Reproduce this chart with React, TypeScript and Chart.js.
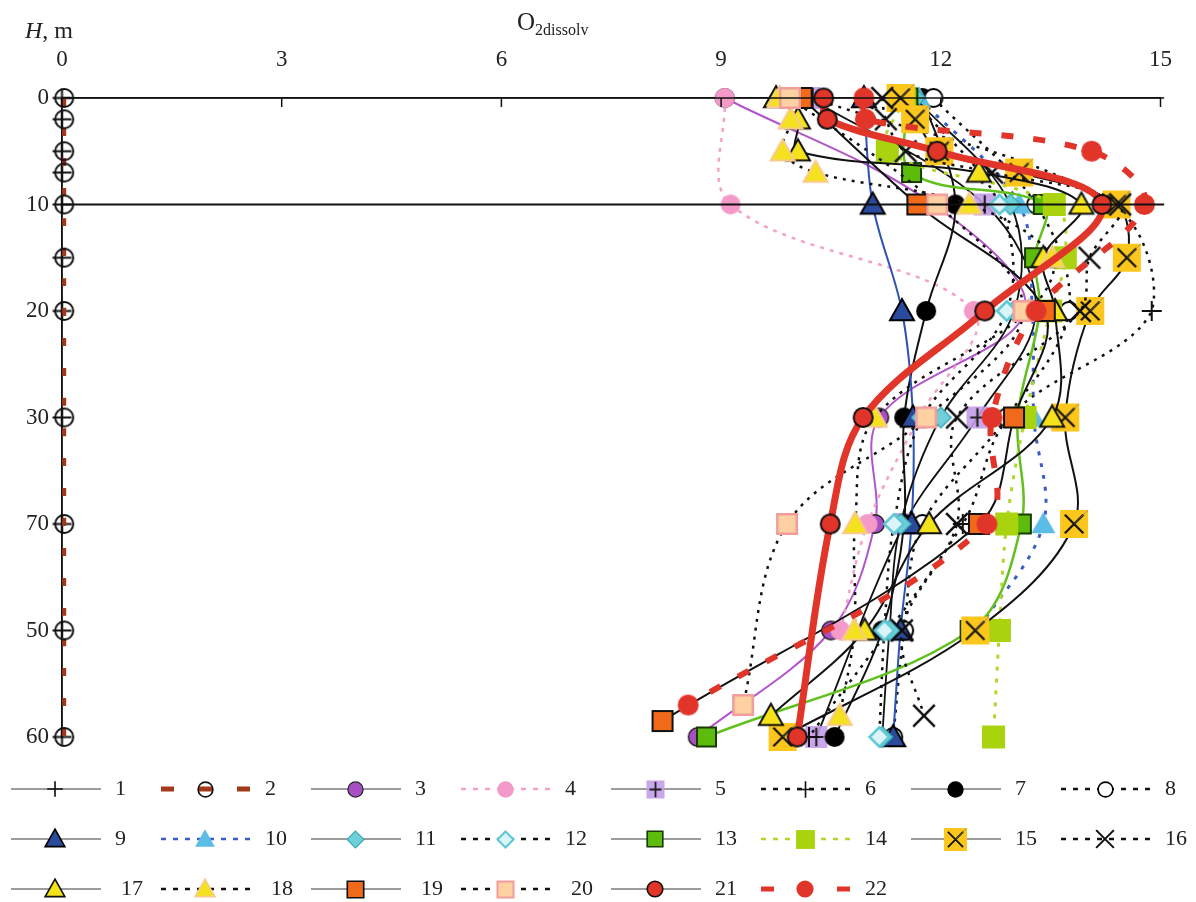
import React, { useEffect, useRef } from "react";
import { Chart, registerables } from "chart.js";

Chart.register(...registerables);

const FONT = '"Liberation Serif", "Times New Roman", serif';

// ---- axis ticks ----
const xTickValues = [0, 3, 6, 9, 12, 15];
const depthTickValues = [0, 10, 20, 30, 40, 50, 60];
const depthTickLabels = ["0", "10", "20", "30", "70", "50", "60"];

// ---- reference horizontal lines ----
const refLineDepths = [0, 10];
const refLineX = [0, 15.05];

// ---- legend labels ----
const legendLabels = [
  "1", "2", "3", "4", "5", "6", "7", "8",
  "9", "10", "11", "12", "13", "14", "15", "16",
  "17", "18", "19", "20", "21", "22",
];

// ---- series (depth H, m / dissolved O2) ----
const s1Depth = [0, 2, 5, 7, 10, 15, 20, 30, 40, 50, 60];
const s1O2 = [0, 0, 0, 0, 0, 0, 0, 0, 0, 0, 0];
const s2Depth = [0, 2, 5, 7, 10, 15, 20, 30, 40, 50, 60];
const s2O2 = [0.03, 0.03, 0.03, 0.03, 0.03, 0.03, 0.03, 0.03, 0.03, 0.03, 0.03];
const s3Depth = [0, 10, 20, 30, 40, 50, 60];
const s3O2 = [9.05, 11.9, 13.15, 11.16, 11.1, 10.5, 8.68];
const s4Depth = [0, 10, 20, 30, 40, 50];
const s4O2 = [9.05, 9.13, 12.45, 11.7, 11.0, 10.63];
const s5Depth = [0, 10, 20, 30, 40, 60];
const s5O2 = [10.2, 12.6, 13.3, 12.5, 11.5, 10.3];
const s6Depth = [0, 10, 20, 30, 40, 60];
const s6O2 = [10.25, 14.35, 14.88, 12.93, 12.3, 10.2];
const s7Depth = [0, 10, 20, 30, 40, 50, 60];
const s7O2 = [11.75, 12.2, 11.8, 11.5, 11.5, 11.2, 10.55];
const s8Depth = [0, 10, 20, 30, 40, 50, 60];
const s8O2 = [11.9, 13.3, 13.75, 12.9, 11.75, 11.5, 11.35];
const s9Depth = [0, 10, 20, 30, 40, 50, 60];
const s9O2 = [10.95, 11.07, 11.47, 11.62, 11.6, 11.45, 11.35];
const s10Depth = [0, 10, 20, 30, 40, 50];
const s10O2 = [11.7, 13.07, 13.25, 13.27, 13.4, 12.5];
const s11Depth = [0, 10, 20, 30, 40, 50, 60];
const s11O2 = [11.65, 12.95, 13.0, 12.0, 11.45, 11.3, 11.2];
const s12Depth = [0, 10, 20, 30, 40, 50, 60];
const s12O2 = [11.6, 12.8, 12.9, 11.75, 11.36, 11.23, 11.16];
const s13Depth = [0, 7, 10, 15, 20, 30, 40, 50, 60];
const s13O2 = [11.55, 11.6, 13.4, 13.28, 13.35, 13.05, 13.1, 12.4, 8.8];
const s14Depth = [0, 5, 10, 15, 20, 30, 40, 50, 60];
const s14O2 = [11.5, 11.27, 13.55, 13.7, 13.5, 13.15, 12.9, 12.8, 12.72];
const s15Depth = [0, 2, 5, 7, 10, 15, 20, 30, 40, 50, 60];
const s15O2 = [11.45, 11.65, 11.98, 13.07, 14.4, 14.54, 14.04, 13.7, 13.82, 12.47, 9.84];
const s16Depth = [0, 2, 5, 7, 10, 15, 20, 30, 40, 50, 58];
const s16O2 = [11.2, 11.25, 11.52, 12.7, 14.45, 14.03, 13.9, 12.22, 12.22, 11.47, 11.77];
const s17Depth = [0, 2, 5, 7, 10, 15, 20, 30, 40, 50, 58];
const s17O2 = [9.75, 10.05, 10.05, 12.52, 13.92, 13.4, 13.56, 13.52, 11.84, 10.96, 9.68];
const s18Depth = [0, 2, 5, 7, 10, 15, 20, 30, 40, 50, 58];
const s18O2 = [9.8, 9.95, 9.84, 10.29, 12.39, 13.52, 13.2, 11.1, 10.83, 10.82, 10.62];
const s19Depth = [0, 10, 20, 30, 40, 58.5];
const s19O2 = [10.1, 11.68, 13.42, 13.0, 12.52, 8.2];
const s20Depth = [0, 10, 20, 30, 40, 57];
const s20O2 = [9.94, 11.95, 13.13, 11.8, 9.9, 9.3];
const s21Depth = [0, 2, 5, 10, 20, 30, 40, 60];
const s21O2 = [10.4, 10.45, 11.95, 14.2, 12.6, 10.94, 10.49, 10.04];
const s22Depth = [0, 2, 5, 10, 20, 30, 40, 57];
const s22O2 = [10.95, 10.97, 14.06, 14.78, 13.3, 12.7, 12.63, 8.55];

const seriesDepths = [
  s1Depth, s2Depth, s3Depth, s4Depth, s5Depth, s6Depth, s7Depth, s8Depth,
  s9Depth, s10Depth, s11Depth, s12Depth, s13Depth, s14Depth, s15Depth, s16Depth,
  s17Depth, s18Depth, s19Depth, s20Depth, s21Depth, s22Depth,
];
const seriesO2 = [
  s1O2, s2O2, s3O2, s4O2, s5O2, s6O2, s7O2, s8O2,
  s9O2, s10O2, s11O2, s12O2, s13O2, s14O2, s15O2, s16O2,
  s17O2, s18O2, s19O2, s20O2, s21O2, s22O2,
];

// ---- styles ----
type LineStyle = { color: string; width: number; dash: number[] };
const lineStyles: LineStyle[] = [
  { color: "#111", width: 1.5, dash: [] },
  { color: "#a3391b", width: 4, dash: [8, 22] },
  { color: "#b155c9", width: 2, dash: [] },
  { color: "#f4a0cb", width: 2.5, dash: [4, 6] },
  { color: "#111", width: 1.8, dash: [] },
  { color: "#111", width: 2.5, dash: [3, 6] },
  { color: "#111", width: 2, dash: [] },
  { color: "#111", width: 2.5, dash: [3, 6] },
  { color: "#2d52b4", width: 2, dash: [] },
  { color: "#3b5cc6", width: 3, dash: [4, 8] },
  { color: "#111", width: 1.8, dash: [] },
  { color: "#111", width: 2.5, dash: [3, 6] },
  { color: "#62c01c", width: 2.5, dash: [] },
  { color: "#b2d62a", width: 3, dash: [4, 8] },
  { color: "#111", width: 2, dash: [] },
  { color: "#111", width: 2.5, dash: [3, 6] },
  { color: "#111", width: 2, dash: [] },
  { color: "#111", width: 2.5, dash: [3, 6] },
  { color: "#111", width: 2, dash: [] },
  { color: "#111", width: 2.5, dash: [3, 6] },
  { color: "#e2352a", width: 7, dash: [] },
  { color: "#e2352a", width: 6, dash: [12, 20] },
];

const GRAY = "#9c9c9c";
const legendLineStyles: LineStyle[] = [
  { color: GRAY, width: 2, dash: [] },
  { color: "#a3391b", width: 5, dash: [13, 25] },
  { color: GRAY, width: 2, dash: [] },
  { color: "#f4a0cb", width: 2.5, dash: [5, 7] },
  { color: GRAY, width: 2, dash: [] },
  { color: "#111", width: 2.5, dash: [5, 7] },
  { color: GRAY, width: 2, dash: [] },
  { color: "#111", width: 2.5, dash: [5, 7] },
  { color: GRAY, width: 2, dash: [] },
  { color: "#3b5cc6", width: 2.5, dash: [5, 7] },
  { color: GRAY, width: 2, dash: [] },
  { color: "#111", width: 2.5, dash: [5, 7] },
  { color: GRAY, width: 2, dash: [] },
  { color: "#b2d62a", width: 2.5, dash: [5, 7] },
  { color: GRAY, width: 2, dash: [] },
  { color: "#111", width: 2.5, dash: [5, 7] },
  { color: GRAY, width: 2, dash: [] },
  { color: "#111", width: 2.5, dash: [5, 7] },
  { color: GRAY, width: 2, dash: [] },
  { color: "#111", width: 2.5, dash: [5, 7] },
  { color: GRAY, width: 2, dash: [] },
  { color: "#e2352a", width: 5, dash: [13, 25] },
];

type MarkerSpec = {
  shape: "plus" | "circle" | "square" | "triangle" | "diamond" | "x";
  size: number;
  fill?: string;
  stroke?: string;
  lw?: number;
  inner?: "plus" | "x";
  innerColor?: string;
};
const markerSpecs: MarkerSpec[] = [
  { shape: "plus", size: 19, stroke: "#111", lw: 2 },
  { shape: "circle", size: 20, stroke: "#111", lw: 2 },
  { shape: "circle", size: 20, fill: "#a84fc4", stroke: "#222", lw: 1.5 },
  { shape: "circle", size: 20, fill: "#f49ac8" },
  { shape: "square", size: 22, fill: "rgba(196,156,232,0.9)", inner: "plus", innerColor: "#222" },
  { shape: "plus", size: 20, stroke: "#111", lw: 2 },
  { shape: "circle", size: 20, fill: "#000" },
  { shape: "circle", size: 20, fill: "#fff", stroke: "#000", lw: 2 },
  { shape: "triangle", size: 24, fill: "#2a4b9b", stroke: "#000", lw: 2 },
  { shape: "triangle", size: 24, fill: "#5bbde6" },
  { shape: "diamond", size: 22, fill: "#70d0da", stroke: "#3aa9b5", lw: 1.5 },
  { shape: "diamond", size: 22, fill: "#dcf4f8", stroke: "#5cc9d4", lw: 2.5 },
  { shape: "square", size: 21, fill: "#5dbb0c", stroke: "#1b3a00", lw: 2 },
  { shape: "square", size: 23, fill: "#a9d30e" },
  { shape: "square", size: 28, fill: "#fcc61c", inner: "x", innerColor: "#111" },
  { shape: "x", size: 24, stroke: "#111", lw: 2.5 },
  { shape: "triangle", size: 24, fill: "#f4e31b", stroke: "#111", lw: 2 },
  { shape: "triangle", size: 24, fill: "#f5e21f", stroke: "#f9c98f", lw: 2 },
  { shape: "square", size: 22, fill: "#f06a1a", stroke: "#111", lw: 2 },
  { shape: "square", size: 22, fill: "#fdd1a2", stroke: "#f39c9c", lw: 2.5 },
  { shape: "circle", size: 21, fill: "#e2352a", stroke: "#111", lw: 2 },
  { shape: "circle", size: 21, fill: "#e2352a" },
];

function makeMarker(spec: MarkerSpec, scale: number): HTMLCanvasElement {
  const size = spec.size * scale;
  const pad = 4;
  const dim = Math.ceil(size + pad * 2);
  const c = document.createElement("canvas");
  c.width = dim;
  c.height = dim;
  const ctx = c.getContext("2d")!;
  ctx.translate(dim / 2, dim / 2);
  const h = size / 2;
  const lw = (spec.lw || 0) * Math.max(scale, 0.8);
  ctx.lineWidth = lw;
  ctx.lineJoin = "miter";
  ctx.beginPath();
  switch (spec.shape) {
    case "circle":
      ctx.arc(0, 0, h - lw / 2, 0, Math.PI * 2);
      break;
    case "square":
      ctx.rect(-h + lw / 2, -h + lw / 2, size - lw, size - lw);
      break;
    case "triangle":
      ctx.moveTo(0, -h);
      ctx.lineTo(h, h * 0.78);
      ctx.lineTo(-h, h * 0.78);
      ctx.closePath();
      break;
    case "diamond":
      ctx.moveTo(0, -h + lw / 2);
      ctx.lineTo(h - lw / 2, 0);
      ctx.lineTo(0, h - lw / 2);
      ctx.lineTo(-h + lw / 2, 0);
      ctx.closePath();
      break;
    case "plus":
      ctx.moveTo(-h, 0);
      ctx.lineTo(h, 0);
      ctx.moveTo(0, -h);
      ctx.lineTo(0, h);
      break;
    case "x":
      ctx.moveTo(-h * 0.9, -h * 0.9);
      ctx.lineTo(h * 0.9, h * 0.9);
      ctx.moveTo(h * 0.9, -h * 0.9);
      ctx.lineTo(-h * 0.9, h * 0.9);
      break;
  }
  if (spec.fill && spec.shape !== "plus" && spec.shape !== "x") {
    ctx.fillStyle = spec.fill;
    ctx.fill();
  }
  if (spec.stroke && lw > 0) {
    ctx.strokeStyle = spec.stroke;
    ctx.stroke();
  }
  if (spec.inner) {
    ctx.strokeStyle = spec.innerColor || "#111";
    ctx.lineWidth = 2.2 * Math.max(scale, 0.8);
    ctx.beginPath();
    const k = h * 0.66;
    if (spec.inner === "plus") {
      ctx.moveTo(-k, 0);
      ctx.lineTo(k, 0);
      ctx.moveTo(0, -h * 0.85);
      ctx.lineTo(0, h * 0.85);
      ctx.stroke();
    } else {
      ctx.moveTo(-k, -k);
      ctx.lineTo(k, k);
      ctx.moveTo(k, -k);
      ctx.lineTo(-k, k);
      ctx.stroke();
      ctx.strokeStyle = "rgba(120,120,120,0.8)";
      ctx.lineWidth = 0.8;
      ctx.beginPath();
      ctx.moveTo(0, 0);
      ctx.lineTo(h, -h);
      ctx.stroke();
    }
  }
  return c;
}

export default function App() {
  const ref = useRef<HTMLCanvasElement>(null);

  useEffect(() => {
    const canvas = ref.current!;
    const markers = markerSpecs.map((s) => makeMarker(s, 1));
    const legendMarkers = markerSpecs.map((s) => makeMarker(s, 0.82));

    const datasets: any[] = seriesDepths.map((depths, i) => ({
      label: legendLabels[i],
      data: depths.map((d, j) => ({ x: seriesO2[i][j], y: d })),
      showLine: true,
      borderColor: lineStyles[i].color,
      borderWidth: lineStyles[i].width,
      borderDash: lineStyles[i].dash,
      tension: 0.35,
      pointStyle: markers[i],
      pointRadius: 10,
      pointHoverRadius: 10,
      pointBorderWidth: 0,
      clip: false,
      order: -i,
    }));

    refLineDepths.forEach((d, k) => {
      datasets.push({
        label: "ref" + k,
        data: refLineX.map((x) => ({ x, y: d })),
        showLine: true,
        borderColor: "#111",
        borderWidth: k === 0 ? 1.5 : 2,
        pointRadius: 0,
        pointHoverRadius: 0,
        tension: 0,
        clip: false,
        order: -100,
      });
    });

    const decorPlugin = {
      id: "decor",
      afterDraw(chart: any) {
        const ctx = chart.ctx as CanvasRenderingContext2D;
        const xs = chart.scales.x;
        const area = chart.chartArea;
        ctx.save();
        // inner tick marks on top axis
        ctx.strokeStyle = "#111";
        ctx.lineWidth = 1.5;
        xTickValues.forEach((v) => {
          const px = xs.getPixelForValue(v);
          ctx.beginPath();
          ctx.moveTo(px, area.top);
          ctx.lineTo(px, area.top + 9);
          ctx.stroke();
        });
        // axis titles
        ctx.fillStyle = "#222";
        ctx.textBaseline = "alphabetic";
        ctx.textAlign = "left";
        ctx.font = `italic 24px ${FONT}`;
        ctx.fillText("H", 25, 38);
        const wH = ctx.measureText("H").width;
        ctx.font = `24px ${FONT}`;
        ctx.fillText(", m", 25 + wH, 38);
        ctx.font = `25px ${FONT}`;
        ctx.fillText("O", 517, 30);
        const wO = ctx.measureText("O").width;
        ctx.font = `16px ${FONT}`;
        ctx.fillText("2dissolv", 517 + wO, 35);

        // legend
        legendLabels.forEach((lab, i) => {
          const row = Math.floor(i / 8);
          const col = i % 8;
          const x0 = 11 + col * 150;
          const y = 789 + row * 50;
          const ls = legendLineStyles[i];
          ctx.save();
          ctx.strokeStyle = ls.color;
          ctx.lineWidth = ls.width;
          ctx.setLineDash(ls.dash);
          ctx.beginPath();
          ctx.moveTo(x0, y);
          ctx.lineTo(x0 + 90, y);
          ctx.stroke();
          ctx.restore();
          const m = legendMarkers[i];
          ctx.drawImage(m, Math.round(x0 + 44 - m.width / 2), Math.round(y - m.height / 2));
          ctx.fillStyle = "#222";
          ctx.font = `22px ${FONT}`;
          ctx.textBaseline = "middle";
          ctx.textAlign = "left";
          ctx.fillText(lab, x0 + 104 + (row === 2 && col < 4 ? 6 : 0), y);
        });
        ctx.restore();
      },
    };

    const chart = new Chart(canvas, {
      type: "scatter",
      data: { datasets },
      options: {
        animation: false,
        responsive: false,
        maintainAspectRatio: false,
        events: [],
        layout: { padding: { top: 0, left: 0, right: 32, bottom: 165 } },
        plugins: {
          legend: { display: false },
          tooltip: { enabled: false },
        },
        scales: {
          x: {
            type: "linear",
            position: "top",
            min: 0,
            max: 15,
            afterBuildTicks: (s: any) => {
              s.ticks = xTickValues.map((v) => ({ value: v }));
            },
            ticks: {
              color: "#222",
              font: { family: FONT, size: 23 },
              padding: 24,
              maxRotation: 0,
              autoSkip: false,
            },
            grid: { display: true, drawOnChartArea: false, drawTicks: false },
            border: { display: true, color: "#111", width: 1.5 },
            afterFit: (s: any) => {
              s.height = 98;
            },
          },
          y: {
            type: "linear",
            reverse: true,
            min: 0,
            max: 60,
            afterBuildTicks: (s: any) => {
              s.ticks = depthTickValues.map((v) => ({ value: v }));
            },
            ticks: {
              color: "#222",
              font: { family: FONT, size: 23 },
              padding: 13,
              autoSkip: false,
              callback: (v: any) => {
                const k = depthTickValues.indexOf(Number(v));
                return k >= 0 ? depthTickLabels[k] : "";
              },
            },
            grid: { display: true, drawOnChartArea: false, drawTicks: false },
            border: { display: true, color: "#111", width: 1.5 },
            afterFit: (s: any) => {
              s.width = 62;
            },
          },
        },
      } as any,
      plugins: [decorPlugin],
    });

    return () => chart.destroy();
  }, []);

  return (
    <div style={{ position: "absolute", left: 0, top: 0, width: 1196, height: 902, background: "#fff" }}>
      <canvas ref={ref} width={1196} height={902} style={{ display: "block", width: 1196, height: 902 }} />
    </div>
  );
}
